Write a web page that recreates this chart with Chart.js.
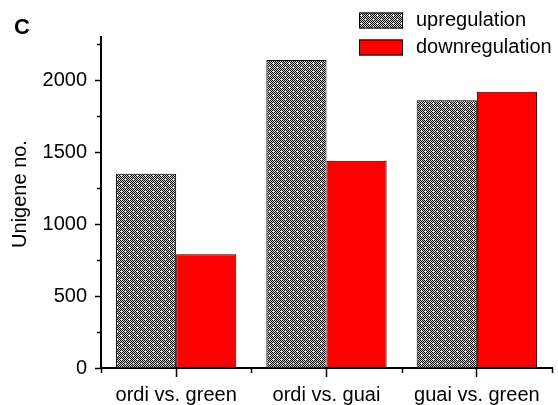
<!DOCTYPE html>
<html>
<head>
<meta charset="utf-8">
<script src="https://cdn.jsdelivr.net/npm/chart.js@4.4.1/dist/chart.umd.min.js"></script>
<style>
html,body{margin:0;padding:0;background:#fff;}
#wrap{width:558px;height:405px;}
</style>
</head>
<body>
<div id="wrap"><canvas id="c" width="558" height="405"></canvas></div>
<script>
const categories = ['ordi vs. green', 'ordi vs. guai', 'guai vs. green'];
const upregulation = [1350, 2140, 1860];
const downregulation = [790, 1440, 1920];
const seriesLabels = ['upregulation', 'downregulation'];
const yTickValues = [0, 500, 1000, 1500, 2000];
const yMinorValues = [250, 750, 1250, 1750, 2250];
const yTitle = 'Unigene no.';
const panelLetter = 'C';

const FONT = '"Liberation Sans", Arial, sans-serif';

function makePattern() {
  const N = 8;
  const p = document.createElement('canvas');
  p.width = N; p.height = N;
  const g = p.getContext('2d');
  const img = g.createImageData(N, N);
  for (let y = 0; y < N; y++) {
    for (let x = 0; x < N; x++) {
      const i = (y * N + x) * 4;
      let v = ((x + y) % 2 === 0) ? 0 : 210;
      if (x === 5 && y === 3) v = 255;
      if (x === 1 && y === 7) v = 255;
      img.data[i] = v; img.data[i + 1] = v; img.data[i + 2] = v; img.data[i + 3] = 255;
    }
  }
  g.putImageData(img, 0, 0);
  return document.getElementById('c').getContext('2d').createPattern(p, 'repeat');
}
const checker = makePattern();

const decor = {
  id: 'decor',
  afterDraw(chart) {
    const ctx = chart.ctx;
    const xs = chart.scales.x, ys = chart.scales.y;
    ctx.save();
    ctx.strokeStyle = '#000';
    ctx.lineWidth = 1.5;
    yMinorValues.forEach(v => {
      const py = Math.round(ys.getPixelForValue(v)) + 0.5;
      ctx.beginPath(); ctx.moveTo(xs.left - 4, py); ctx.lineTo(xs.left, py); ctx.stroke();
    });
    const n = categories.length;
    const w = (xs.right - xs.left) / n;
    for (let i = 0; i <= n; i++) {
      const px = Math.round(xs.left + i * w) + 0.5;
      ctx.beginPath(); ctx.moveTo(px, ys.bottom); ctx.lineTo(px, ys.bottom + 5); ctx.stroke();
    }
    ctx.fillStyle = '#000';
    ctx.font = 'bold 22px ' + FONT;
    ctx.textBaseline = 'alphabetic';
    ctx.textAlign = 'left';
    ctx.fillText(panelLetter, 14, 34);
    ctx.font = '20px ' + FONT;
    ctx.save();
    ctx.translate(20, 194);
    ctx.rotate(-Math.PI / 2);
    ctx.textAlign = 'center';
    ctx.textBaseline = 'middle';
    ctx.fillText(yTitle, 0, 0);
    ctx.restore();
    const rows = [20.5, 47.5];
    chart.data.datasets.forEach((ds, i) => {
      const cy = rows[i];
      ctx.fillStyle = ds.backgroundColor;
      ctx.fillRect(359, cy - 8, 44, 16);
      ctx.lineWidth = 1;
      ctx.strokeStyle = '#000';
      ctx.strokeRect(359.5, cy - 7.5, 43, 15);
      ctx.fillStyle = '#000';
      ctx.font = '20px ' + FONT;
      ctx.textAlign = 'left';
      ctx.textBaseline = 'middle';
      ctx.fillText(ds.label, 416, cy);
    });
    ctx.restore();
  }
};

new Chart(document.getElementById('c'), {
  type: 'bar',
  data: {
    labels: categories,
    datasets: [
      { label: seriesLabels[0], data: upregulation, backgroundColor: checker, borderColor: '#000', borderWidth: 1 },
      { label: seriesLabels[1], data: downregulation, backgroundColor: '#ff0000', borderColor: '#000', borderWidth: 1 }
    ]
  },
  options: {
    responsive: false,
    animation: false,
    events: [],
    layout: { padding: { top: 37, right: 6, left: 0, bottom: 0 } },
    datasets: { bar: { categoryPercentage: 0.8, barPercentage: 1.0 } },
    plugins: { legend: { display: false }, tooltip: { enabled: false }, title: { display: false } },
    scales: {
      x: {
        offset: true,
        grid: { offset: false, drawOnChartArea: false, drawTicks: true, tickLength: 9, tickColor: '#000', tickWidth: 1.5 },
        border: { display: true, color: '#000', width: 2 },
        ticks: { color: '#000', font: { family: FONT, size: 20 }, padding: 6, maxRotation: 0, autoSkip: false },
        afterFit(s) { s.height = 37; }
      },
      y: {
        min: 0, max: 2300,
        afterBuildTicks(s) { s.ticks = yTickValues.map(v => ({ value: v })); },
        grid: { drawOnChartArea: false, drawTicks: true, tickLength: 6, tickColor: '#000', tickWidth: 1.5 },
        border: { display: true, color: '#000', width: 2 },
        ticks: { color: '#000', font: { family: FONT, size: 20 }, padding: 8, callback: v => String(v) },
        afterFit(s) { s.width = 101; }
      }
    }
  },
  plugins: [decor]
});
</script>
</body>
</html>
